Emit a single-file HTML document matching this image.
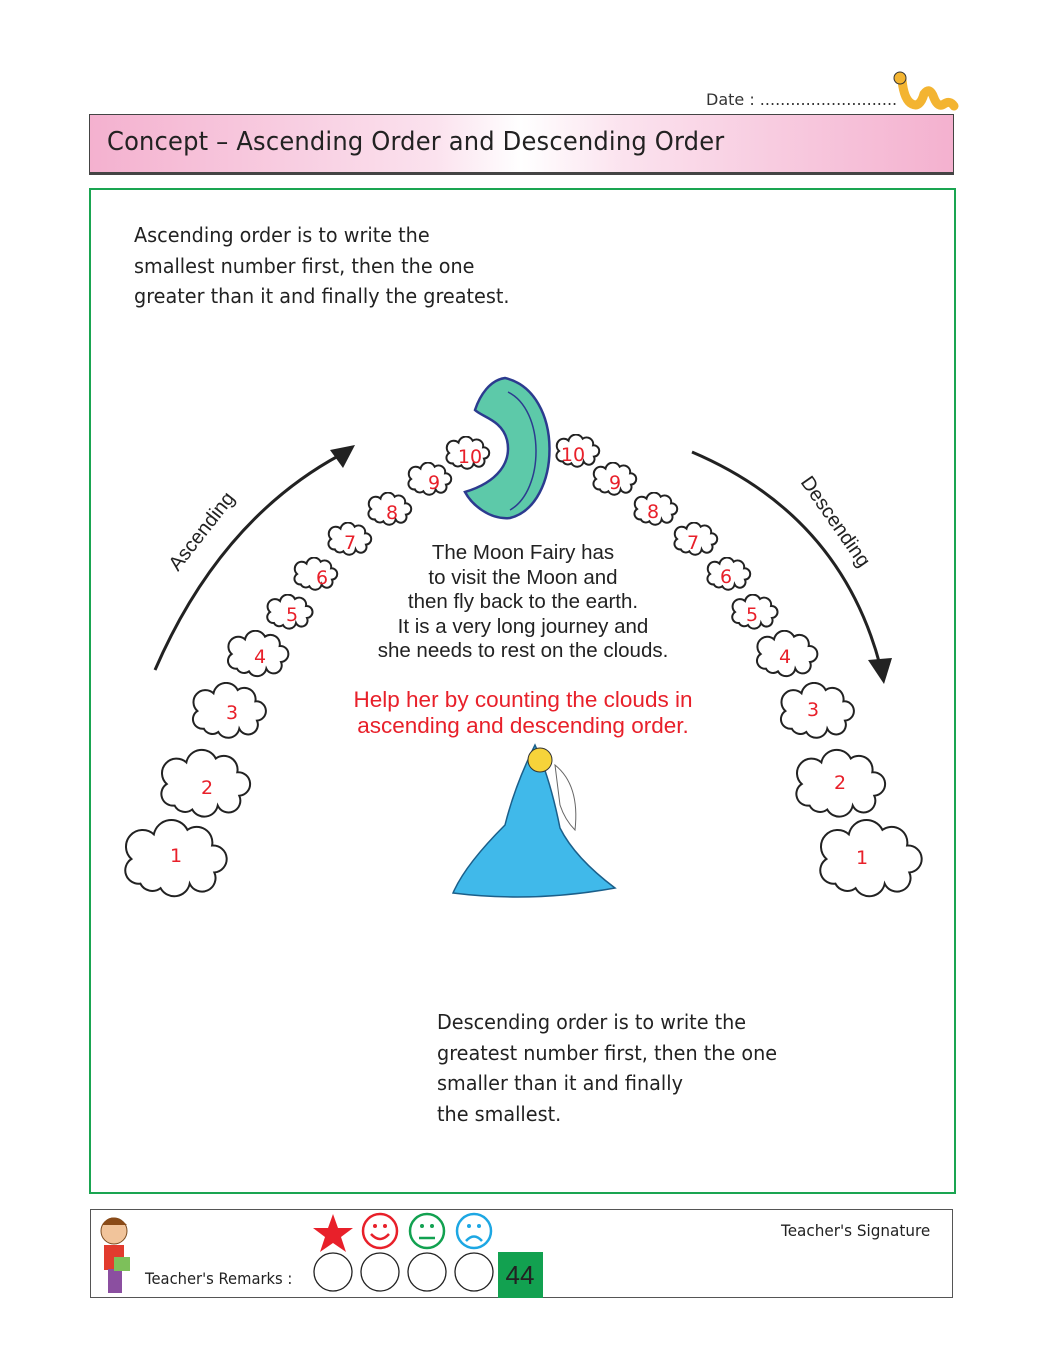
<!DOCTYPE html>
<html><head><meta charset="utf-8"><style>
body{margin:0;width:1044px;height:1368px;background:#fff;position:relative;font-family:"Liberation Sans",sans-serif;overflow:hidden}
.a{position:absolute}
.hw{font-family:"DejaVu Sans","Liberation Sans",sans-serif;color:#222}
</style></head><body>
<div class="a hw" style="left:706px;top:90px;font-size:16px;color:#333">Date : ...........................</div>
<svg class="a" style="left:890px;top:70px" width="70" height="45"><path d="M12,10 q2,20 10,24 q8,4 12,-10 q6,-8 10,4 q4,10 10,6 q6,-4 10,2" stroke="#f3b431" stroke-width="9" fill="none" stroke-linecap="round"/><circle cx="10" cy="8" r="6" fill="#f3b431" stroke="#333"/></svg>
<div class="a" style="left:89px;top:114px;width:863px;height:57px;border:1.5px solid #444;border-bottom:3px solid #444;background:linear-gradient(90deg,#f4b1cf,#fbe2ee 40%,#fff 50%,#fbe2ee 62%,#f4b1cf)"></div>
<div class="a hw" style="left:107px;top:127px;font-size:26px;letter-spacing:0.2px;transform:scaleX(0.93);transform-origin:left">Concept – Ascending Order and Descending Order</div>
<div class="a" style="left:89px;top:188px;width:863px;height:1002px;border:2px solid #1aa551"></div>
<div class="a hw" style="left:134px;top:220px;font-size:20px;line-height:30.5px;transform:scaleX(0.96);transform-origin:left">Ascending order is to write the<br>smallest number first, then the one<br>greater than it and finally the greatest.</div>
<div class="a hw" style="left:437px;top:1007px;font-size:20px;line-height:30.5px;transform:scaleX(0.96);transform-origin:left">Descending order is to write the<br>greatest number first, then the one<br>smaller than it and finally<br>the smallest.</div>
<div class="a" style="left:330px;top:541px;width:386px;text-align:center;font-size:20.5px;line-height:24.5px;color:#222">The Moon Fairy has<br>to visit the Moon and<br>then fly back to the earth.<br>It is a very long journey and<br>she needs to rest on the clouds.</div>
<div class="a" style="left:310px;top:687px;width:426px;text-align:center;font-size:22.5px;line-height:26px;color:#e8202a">Help her by counting the clouds in<br>ascending and descending order.</div>
<svg class="a" style="left:0;top:0" width="1044" height="1368">
<defs>
<symbol id="c" viewBox="0 0 100 72"><path vector-effect="non-scaling-stroke" d="M20,58 a12,12 0 0 1 -8,-22 a14,14 0 0 1 20,-22 a16,16 0 0 1 30,-4 a14,14 0 0 1 22,14 a12,12 0 0 1 2,24 a12,12 0 0 1 -22,10 a14,14 0 0 1 -26,4 a12,12 0 0 1 -18,-4 z" fill="#fff" stroke="#222" stroke-width="2"/></symbol>
</defs>
<path d="M155,670 Q220,520 340,455" stroke="#222" stroke-width="3" fill="none"/>
<path d="M355,445 L330,450 L343,468z" fill="#222"/>
<path d="M692,452 Q840,515 880,665" stroke="#222" stroke-width="3" fill="none"/>
<path d="M884,684 L868,660 L892,658z" fill="#222"/>
<text x="0" y="0" font-size="20" fill="#222" transform="translate(178,572) rotate(-52)">Ascending</text>
<text x="0" y="0" font-size="20" fill="#222" transform="translate(800,482) rotate(55)">Descending</text>
<path d="M505,378 C565,392 562,505 510,518 C490,520 472,505 465,492 C498,482 512,462 507,440 C502,420 482,417 475,410 C480,395 490,380 505,378z" fill="#5dc9a9" stroke="#2c3b8f" stroke-width="2.5"/>
<path d="M508,392 C545,410 545,490 510,510" fill="none" stroke="#2c3b8f" stroke-width="1.5"/>
<path d="M535,745 q-20,40 -30,80 q-40,40 -52,68 q80,10 162,-5 q-40,-30 -55,-60 q-10,-50 -25,-83z" fill="#40b9ea" stroke="#1b5f8a" stroke-width="1.5"/>
<circle cx="540" cy="760" r="12" fill="#f6d33a" stroke="#333"/>
<path d="M555,765 q25,20 20,65 q-10,-10 -15,-25z" fill="#fff" stroke="#666"/>
</svg>
<svg class="a" style="left:0;top:0" width="1044" height="1368" font-family="DejaVu Sans,sans-serif" font-size="19" fill="#e8202a" text-anchor="middle">
<use href="#c" x="118" y="818" width="112" height="82"/><text x="176" y="862">1</text>
<use href="#c" x="155" y="748" width="98" height="72"/><text x="207" y="794">2</text>
<use href="#c" x="185" y="682" width="86" height="58"/><text x="232" y="719">3</text>
<use href="#c" x="220" y="630" width="74" height="48"/><text x="260" y="663">4</text>
<use href="#c" x="258" y="594" width="62" height="36"/><text x="292" y="621">5</text>
<use href="#c" x="284" y="557" width="62" height="34"/><text x="322" y="584">6</text>
<use href="#c" x="318" y="522" width="62" height="34"/><text x="350" y="549">7</text>
<use href="#c" x="358" y="492" width="62" height="34"/><text x="392" y="519">8</text>
<use href="#c" x="398" y="462" width="62" height="34"/><text x="434" y="489">9</text>
<use href="#c" x="435" y="436" width="64" height="34"/><text x="470" y="463">10</text>
<use href="#c" x="545" y="434" width="64" height="34"/><text x="573" y="461">10</text>
<use href="#c" x="583" y="462" width="62" height="34"/><text x="615" y="489">9</text>
<use href="#c" x="624" y="492" width="62" height="34"/><text x="653" y="518">8</text>
<use href="#c" x="664" y="522" width="62" height="34"/><text x="693" y="549">7</text>
<use href="#c" x="697" y="557" width="62" height="34"/><text x="726" y="583">6</text>
<use href="#c" x="723" y="594" width="62" height="36"/><text x="752" y="621">5</text>
<use href="#c" x="749" y="630" width="74" height="48"/><text x="785" y="663">4</text>
<use href="#c" x="773" y="682" width="86" height="58"/><text x="813" y="716">3</text>
<use href="#c" x="790" y="748" width="98" height="72"/><text x="840" y="789">2</text>
<use href="#c" x="813" y="818" width="112" height="82"/><text x="862" y="864">1</text>
</svg>
<div class="a" style="left:90px;top:1209px;width:861px;height:87px;border:1.5px solid #555"></div>
<svg class="a" style="left:94px;top:1213px" width="45" height="85"><circle cx="20" cy="18" r="13" fill="#f1c49b" stroke="#7a4a1e"/><path d="M8,12 q10,-15 25,0z" fill="#8a4b18"/><rect x="10" y="32" width="20" height="25" fill="#e23b2e"/><rect x="14" y="56" width="14" height="24" fill="#8b4fa0"/><rect x="20" y="44" width="16" height="14" fill="#7dc05a"/></svg>
<div class="a hw" style="left:145px;top:1269px;font-size:16px;transform:scaleX(0.92);transform-origin:left">Teacher's Remarks :</div>
<div class="a hw" style="left:781px;top:1221px;font-size:16px;transform:scaleX(0.95);transform-origin:left">Teacher's Signature</div>
<svg class="a" style="left:310px;top:1210px" width="240" height="90">
<path d="M23,4 l5,14 h15 l-12,9 l5,15 l-13,-9 l-13,9 l5,-15 l-12,-9 h15z" fill="#e8202a"/>
<g fill="none" stroke-width="2.5"><circle cx="70" cy="21" r="17" stroke="#e8202a"/><path d="M61,24 q9,10 18,0" stroke="#e8202a"/>
<circle cx="117" cy="21" r="17" stroke="#12a150"/><path d="M109,28 h16" stroke="#12a150"/>
<circle cx="164" cy="21" r="17" stroke="#1da7e3"/><path d="M156,31 q8,-9 16,0" stroke="#1da7e3"/>
<g stroke="#222" stroke-width="1.3"><circle cx="23" cy="62" r="19"/><circle cx="70" cy="62" r="19"/><circle cx="117" cy="62" r="19"/><circle cx="164" cy="62" r="19"/></g></g>
<g fill="#e8202a"><circle cx="65" cy="16" r="2"/><circle cx="75" cy="16" r="2"/></g>
<g fill="#12a150"><circle cx="112" cy="16" r="2"/><circle cx="122" cy="16" r="2"/></g>
<g fill="#1da7e3"><circle cx="159" cy="16" r="2"/><circle cx="169" cy="16" r="2"/></g>
<rect x="188" y="42" width="45" height="46" fill="#12a150"/>
<text x="210" y="74" text-anchor="middle" font-size="26" font-family="Liberation Sans,sans-serif" fill="#222">44</text>
</svg>
</body></html>
